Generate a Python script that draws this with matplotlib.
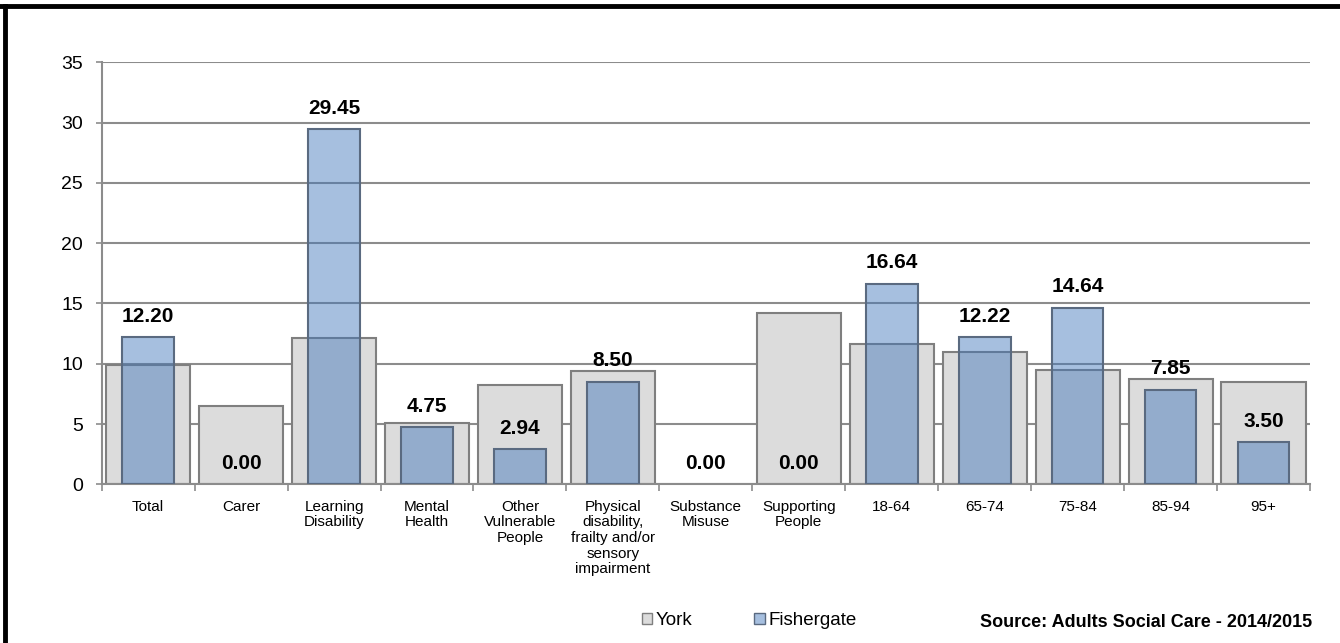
import matplotlib
matplotlib.use("Agg")
import matplotlib.pyplot as plt
from matplotlib.lines import Line2D
from matplotlib.patches import Patch
import numpy as np

plt.rcParams['font.family'] = ['Liberation Sans', 'DejaVu Sans']

categories = ["Total", "Carer", "Learning\nDisability", "Mental\nHealth",
              "Other\nVulnerable\nPeople",
              "Physical\ndisability,\nfrailty and/or\nsensory\nimpairment",
              "Substance\nMisuse", "Supporting\nPeople",
              "18-64", "65-74", "75-84", "85-94", "95+"]
york = [9.89, 6.52, 12.16, 5.11, 8.26, 9.42, 0.0, 14.18, 11.66, 11.0, 9.48, 8.7, 8.5]
fishergate = [12.20, 0.00, 29.45, 4.75, 2.94, 8.50, 0.00, 0.00, 16.64, 12.22, 14.64, 7.85, 3.50]
y_ticks = [0, 5, 10, 15, 20, 25, 30, 35]

grey_face = "#dcdcdc"
grey_edge = "#7f7f7f"
blue_face = (62 / 255, 117 / 255, 187 / 255, 0.46)
blue_edge = "#5a6a80"

fig = plt.figure(figsize=(13.4, 6.43), dpi=100)
ax = fig.add_axes([0.0759, 0.2468, 0.9017, 0.6563])

x = np.arange(len(categories))
# no outline for empty bars, otherwise a line shows on the axis
york_lw = [1.5 if v > 0 else 0 for v in york]
fish_lw = [1.5 if v > 0 else 0 for v in fishergate]
ax.bar(x, york, width=0.905, color=grey_face, edgecolor=grey_edge, linewidth=york_lw, zorder=2)
ax.bar(x, fishergate, width=0.556, facecolor=blue_face, edgecolor=blue_edge, linewidth=fish_lw, zorder=3)

for xi, v in zip(x, fishergate):
    ax.annotate("%.2f" % v, (xi, v), xytext=(0, 15), textcoords="offset points",
                ha="center", va="center", fontsize=15, fontweight="bold", zorder=4)

ax.set_xlim(-0.5, len(categories) - 0.5)
ax.set_ylim(0, 35)
ax.set_yticks(y_ticks)
ax.tick_params(axis="y", labelsize=14, length=4.5, width=1.2, color="#8c8c8c", pad=9)

ax.set_xticks(x)
ax.set_xticklabels(categories, fontsize=11, linespacing=1.15)
ax.set_xticks(np.arange(len(categories) + 1) - 0.5, minor=True)
ax.tick_params(axis="x", which="major", length=0, pad=11)
ax.tick_params(axis="x", which="minor", length=5, width=1.2, color="#8c8c8c")

ax.grid(axis="y", color="#8c8c8c", linewidth=1.5, zorder=0)
ax.set_axisbelow(True)
for side in ["top", "right"]:
    ax.spines[side].set_visible(False)
for side in ["left", "bottom"]:
    ax.spines[side].set_color("#8c8c8c")
    ax.spines[side].set_linewidth(1.5)

handles = [Patch(facecolor=grey_face, edgecolor=grey_edge, label="York"),
           Patch(facecolor=blue_face, edgecolor=blue_edge, label="Fishergate")]
fig.legend(handles=handles, loc="center", bbox_to_anchor=(0.559, 0.035), ncol=2,
           frameon=False, fontsize=13.5, handlelength=0.55, handleheight=0.55,
           handletextpad=0.2, columnspacing=3.3)

fig.text(0.979, 0.018, "Source: Adults Social Care - 2014/2015", ha="right", va="bottom",
         fontsize=13, fontweight="bold")

# frame lines round the chart area
fig.add_artist(Line2D([0.0037, 0.0037], [0.0, 0.991], transform=fig.transFigure,
                      color="black", linewidth=3.5))
fig.add_artist(Line2D([0.0, 1.0], [0.9907, 0.9907], transform=fig.transFigure,
                      color="black", linewidth=3.5))

fig.savefig("out.png", dpi=100)
